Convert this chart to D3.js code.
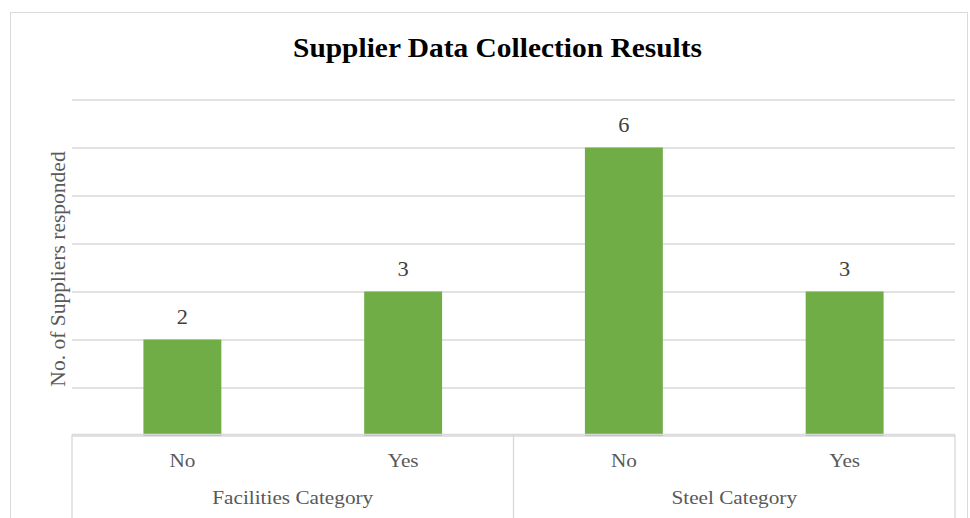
<!DOCTYPE html>
<html>
<head>
<meta charset="utf-8">
<script src="https://cdn.jsdelivr.net/npm/d3@7"></script>
<style>
  html, body { margin: 0; padding: 0; background: #fff; }
  svg { display: block; }
</style>
</head>
<body>
<svg id="chart" width="970" height="518"></svg>
<script>
// Survey responses, grouped by supplier category
const groups = ["Facilities Category", "Steel Category"];
const answers = ["No", "Yes"];
const responses = [2, 3, 6, 3]; // Facilities No, Facilities Yes, Steel No, Steel Yes
const yTicks = [0, 1, 2, 3, 4, 5, 6, 7];

const rows = [];
groups.forEach((g, gi) => answers.forEach((a, ai) => {
  rows.push({ group: g, answer: a, key: g + "|" + a, value: responses[gi * answers.length + ai] });
}));

const svg = d3.select("#chart");
const W = 970, H = 518;
const plot = { left: 72, right: 955, top: 99.5, bottom: 435.5 };
const serif = "'Liberation Serif', 'Times New Roman', serif";
const wide = 1.18; // horizontal widening used for the horizontal text

// Chart frame
svg.append("rect")
  .attr("x", 10.5).attr("y", 12.5)
  .attr("width", 957).attr("height", 520)
  .attr("fill", "#fff").attr("stroke", "#d9d9d9").attr("stroke-width", 1);

const x = d3.scaleBand()
  .domain(rows.map(d => d.key))
  .range([plot.left, plot.right])
  .paddingInner(0.647).paddingOuter(0.3235);

const y = d3.scaleLinear()
  .domain([0, 7])
  .range([plot.bottom, plot.top]);

// Horizontal gridlines
svg.append("g")
  .attr("transform", `translate(${plot.left},0)`)
  .call(d3.axisLeft(y).tickValues(yTicks).tickSize(-(plot.right - plot.left)).tickFormat(""))
  .call(g => g.select(".domain").remove())
  .call(g => g.selectAll(".tick line").attr("stroke", "#d9d9d9").attr("stroke-width", 1.3));

// Bars
svg.append("g").selectAll("rect")
  .data(rows)
  .join("rect")
  .attr("x", d => x(d.key))
  .attr("y", d => y(d.value))
  .attr("width", x.bandwidth())
  .attr("height", d => y(0) - y(d.value))
  .attr("fill", "#70ad47");

// Value labels
svg.append("g").selectAll("text")
  .data(rows)
  .join("text")
  .attr("transform", d => `translate(${x(d.key) + x.bandwidth() / 2},${y(d.value) - 16}) scale(1.12,1)`)
  .attr("text-anchor", "middle")
  .attr("font-family", serif)
  .attr("font-size", 20)
  .attr("fill", "#404040")
  .text(d => d.value);

// Two-level category axis
const axisG = svg.append("g");
axisG.append("line")
  .attr("x1", plot.left).attr("x2", plot.right)
  .attr("y1", plot.bottom - 1).attr("y2", plot.bottom - 1)
  .attr("stroke", "#d9d9d9").attr("stroke-width", 1.3);

const groupBand = d3.scaleBand().domain(groups).range([plot.left, plot.right]);
const dividers = [plot.left, ...groups.slice(1).map(g => groupBand(g)), plot.right];
axisG.selectAll("line.div")
  .data(dividers)
  .join("line")
  .attr("class", "div")
  .attr("x1", d => d).attr("x2", d => d)
  .attr("y1", plot.bottom - 1).attr("y2", H)
  .attr("stroke", "#d9d9d9").attr("stroke-width", 1.3);

axisG.selectAll("text.answer")
  .data(rows)
  .join("text")
  .attr("class", "answer")
  .attr("transform", d => `translate(${x(d.key) + x.bandwidth() / 2},467) scale(${wide},1)`)
  .attr("text-anchor", "middle")
  .attr("font-family", serif)
  .attr("font-size", 18)
  .attr("fill", "#595959")
  .text(d => d.answer);

axisG.selectAll("text.group")
  .data(groups)
  .join("text")
  .attr("class", "group")
  .attr("transform", d => `translate(${groupBand(d) + groupBand.bandwidth() / 2},504) scale(${wide},1)`)
  .attr("text-anchor", "middle")
  .attr("font-family", serif)
  .attr("font-size", 18)
  .attr("fill", "#595959")
  .text(d => d);

// Y-axis title
svg.append("text")
  .attr("transform", `translate(65,${(plot.top + plot.bottom) / 2 + 1.5}) rotate(-90)`)
  .attr("text-anchor", "middle")
  .attr("font-family", serif)
  .attr("font-size", 21.5)
  .attr("fill", "#595959")
  .text("No. of Suppliers responded");

// Title
svg.append("text")
  .attr("transform", "translate(497.5,57) scale(1.09,1)")
  .attr("text-anchor", "middle")
  .attr("font-family", serif)
  .attr("font-weight", "bold")
  .attr("font-size", 27)
  .attr("fill", "#000")
  .text("Supplier Data Collection Results");
</script>
</body>
</html>
